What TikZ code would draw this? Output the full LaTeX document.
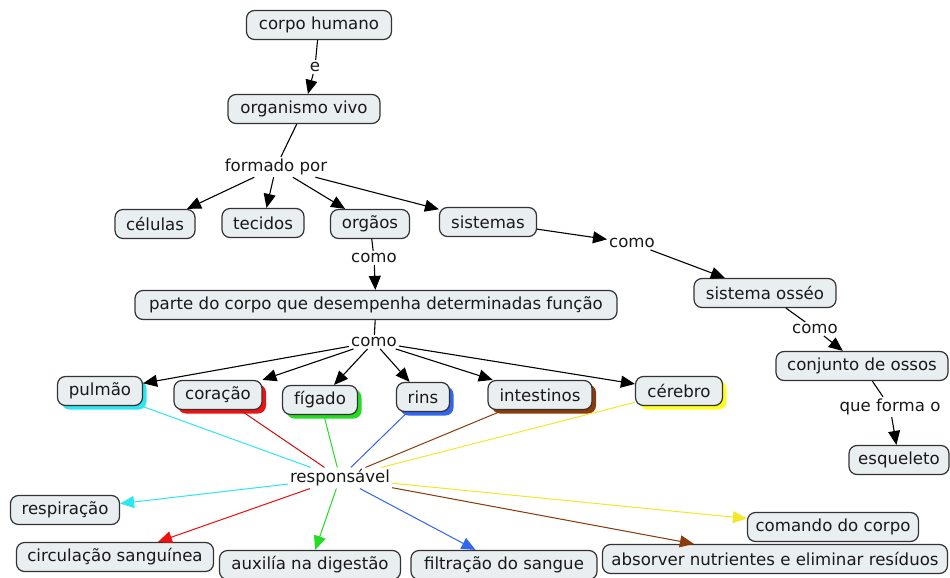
\documentclass[tikz,border=0pt]{standalone}
\usepackage{fontspec}
\setmainfont{DejaVu Sans}
\usetikzlibrary{arrows.meta,shadows}
\definecolor{boxfill}{HTML}{E9EEF1}
\definecolor{cyanS}{HTML}{2EE6F0}
\definecolor{redS}{HTML}{EE1111}
\definecolor{greenS}{HTML}{22DD22}
\definecolor{blueS}{HTML}{3366EE}
\definecolor{brownS}{HTML}{8B3A0A}
\definecolor{yellowS}{HTML}{FFFF22}
\definecolor{yellowL}{HTML}{F2E82A}
\begin{document}
\begin{tikzpicture}[x=1pt,y=-1pt,
  font=\fontsize{16.6}{19}\selectfont,
  concept/.style={draw=black!80, line width=1.2pt, fill=boxfill, rounded corners=8pt,
    minimum height=29pt, inner xsep=6pt, inner ysep=3pt, text=black!90},
  link/.style={inner sep=2pt, text=black!90},
  arr/.style={-{Triangle[length=14pt,width=12pt]}, line width=1.1pt},
  ln/.style={line width=1.1pt},
  shad/.style={drop shadow={shadow xshift=4pt, shadow yshift=-4pt, fill=#1, opacity=1}},
  col/.style={line width=1pt, draw=#1},
  carr/.style={-{Triangle[length=14pt,width=12pt]}, line width=1pt, draw=#1, fill=#1}]
\useasboundingbox (0,0) rectangle (950,578);

% concepts
\node[concept, minimum width=145pt] (ch) at (319,25) {corpo humano};
\node[link] (e) at (315,67) {e};
\node[concept, minimum width=152pt] (ov) at (304,109) {organismo vivo};
\node[link] (fp) at (276,167) {formado por};
\node[concept, minimum width=80pt] (cel) at (155,224) {células};
\node[concept, minimum width=82pt] (tec) at (263,223) {tecidos};
\node[concept, minimum width=79pt] (org) at (370,224) {orgãos};
\node[concept, minimum width=97pt] (sis) at (488,222) {sistemas};
\node[link] (como1) at (374,258) {como};
\node[link] (como2) at (632,243) {como};
\node[concept, minimum width=142pt] (so) at (765,293) {sistema osséo};
\node[link] (como3) at (815,329) {como};
\node[concept, minimum width=172pt] (co) at (862,366) {conjunto de ossos};
\node[link] (qf) at (890,407) {que forma o};
\node[concept, minimum width=100pt] (esq) at (899,460) {esqueleto};
\node[concept, minimum width=482pt] (parte) at (376,305) {parte do corpo que desempenha determinadas função};
\node[link] (como4) at (374,342) {como};

% organs
\node[concept, minimum width=85pt, shad=cyanS] (pul) at (100,391) {pulmão};
\node[concept, minimum width=88pt, shad=redS] (cor) at (218,395) {coração};
\node[concept, minimum width=75pt, shad=greenS] (fig) at (320,400) {fígado};
\node[concept, minimum width=53pt, shad=blueS] (rins) at (423,397) {rins};
\node[concept, minimum width=104pt, shad=brownS] (int) at (540,395) {intestinos};
\node[concept, minimum width=87pt, shad=yellowS] (cer) at (679,391) {cérebro};

\node[link] (resp) at (340,478) {responsável};

% functions
\node[concept, minimum width=109pt] (respi) at (65,510) {respiração};
\node[concept, minimum width=197pt] (circ) at (115,557) {circulação sanguínea};
\node[concept, minimum width=181pt] (aux) at (310,565) {auxilía na digestão};
\node[concept, minimum width=186pt] (filt) at (504,565) {filtração do sangue};
\node[concept, minimum width=171pt] (com) at (833,527) {comando do corpo};
\node[concept, minimum width=345pt] (abs) at (775,559) {absorver nutrientes e eliminar resíduos};

% black connectors
\draw[ln] (ch) -- (e);
\draw[arr] (e) -- (ov);
\draw[ln] (ov) -- (fp);
\draw[arr] (fp) -- (cel);
\draw[arr] (fp) -- (tec);
\draw[arr] (fp) -- (org);
\draw[arr] (fp) -- (sis);
\draw[ln] (org) -- (como1);
\draw[arr] (como1) -- (parte);
\draw[arr] (sis) -- (como2);
\draw[arr] (como2) -- (so);
\draw[ln] (so) -- (como3);
\draw[arr] (como3) -- (co);
\draw[ln] (co) -- (qf);
\draw[arr] (qf) -- (esq);
\draw[ln] (parte) -- (como4);
\draw[arr] (como4) -- (pul);
\draw[arr] (como4) -- (cor);
\draw[arr] (como4) -- (fig);
\draw[arr] (como4) -- (rins);
\draw[arr] (como4) -- (int);
\draw[arr] (como4) -- (cer);

% coloured connectors
\draw[col=cyanS] (pul) -- (resp);
\draw[col=redS!85!black] (cor) -- (resp);
\draw[col=greenS] (fig) -- (resp);
\draw[col=blueS] (rins) -- (resp);
\draw[col=brownS] (int) -- (resp);
\draw[col=yellowL] (cer) -- (resp);
\draw[carr=cyanS] (resp) -- (respi);
\draw[carr=redS] (resp) -- (circ);
\draw[carr=greenS] (resp) -- (aux);
\draw[carr=blueS] (resp) -- (filt);
\draw[carr=yellowL] (resp) -- (com);
\draw[carr=brownS] (resp) -- (abs);
\end{tikzpicture}
\end{document}
